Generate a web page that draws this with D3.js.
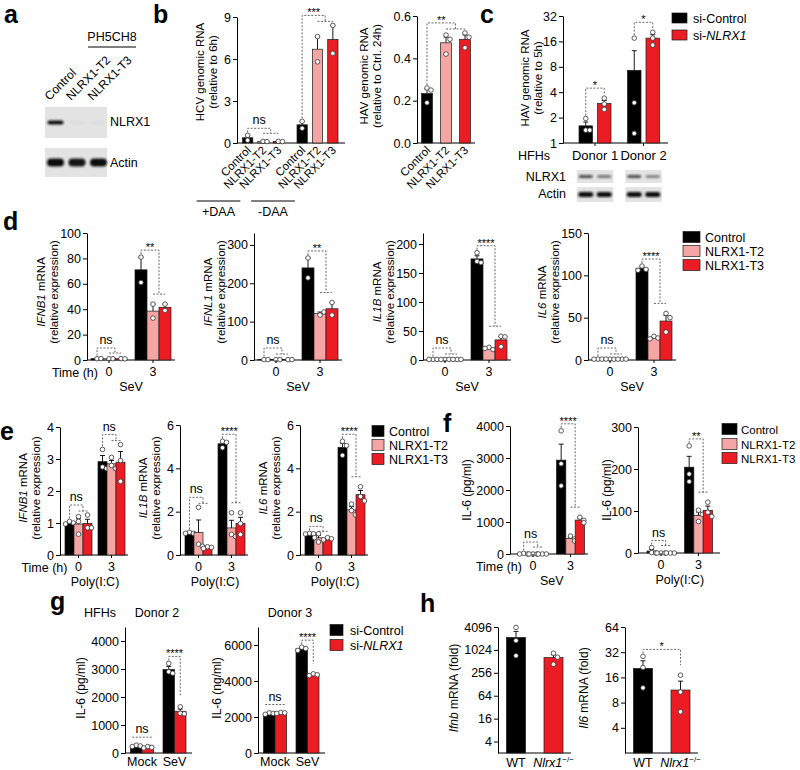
<!DOCTYPE html>
<html>
<head>
<meta charset="utf-8">
<script src="https://cdn.jsdelivr.net/npm/d3@7"></script>
<style>
  body { margin: 0; background: #fff; }
</style>
</head>
<body>
<script>
// ---------- data ----------
// a: western blot
var aLanes = ["Control", "NLRX1-T2", "NLRX1-T3"];
var aNlrx1 = [1, 0.02, 0.02];
var aActin = [1, 0.96, 1];

// b: HCV / HAV genomic RNA
var bGroups = ["+DAA", "-DAA"];
var bCats = ["Control", "NLRX1-T2", "NLRX1-T3"];
var bHcv = [
  [[0.55, 0.2], [0.12, 0.1], [0.12, 0.1]],
  [[1.55, 1.05], [7.6, 5.8], [8.4, 6.4]]
];
var bHcvTicks = [0, 3, 6, 9];
var bHcvSig = ["ns", "***"];
var bHav = [[[0.26, 0.25, 0.19], [0.51, 0.49, 0.42], [0.52, 0.5, 0.45]]];
var bHavTicks = [0, 0.2, 0.4, 0.6];
var bHavSig = ["**"];

// c: HAV in HFHs
var cDonors = ["Donor 1", "Donor 2"];
var siSeries = ["si-Control", "si-NLRX1"];
var cHav = [
  [[1.95, 1.42, 1.42], [3.4, 2.9, 2.5]],
  [[17.5, 3.0, 1.3], [20.5, 17.5, 14.5]]
];
var cTicks = [1, 2, 4, 8, 16, 32];
var cSig = ["*", "*"];
var cNlrx1 = [0.7, 0.5, 0.7, 0.45];
var cActin = [1, 1, 1, 1];

// d: SeV, mRNA
var koSeries = ["Control", "NLRX1-T2", "NLRX1-T3"];
var times = ["0", "3"];
var dIfnb1 = [[[1.0, 1.1], [0.9, 1.0], [1.1, 0.9]], [[81, 61], [44, 33], [44, 39]]];
var dIfnl1 = [[[1, 1], [1, 1.1], [1, 1]], [[266, 214], [117, 125], [150, 117]]];
var dIl1b = [[[1, 1, 1], [1, 1.2, 0.9], [1, 1, 1]], [[185, 170, 168], [22, 18, 20], [41, 40, 23]]];
var dIl6 = [[[1, 1, 1], [1, 0.9, 1.1], [1, 1, 1]], [[111, 107, 106], [28, 26, 25], [55, 50, 33]]];
var dIfnb1Ticks = [0, 20, 40, 60, 80, 100];
var dIfnl1Ticks = [0, 100, 200, 300];
var dIl1bTicks = [0, 50, 100, 150, 200];
var dIl6Ticks = [0, 50, 100, 150];
var dIfnb1Sig = ["ns", "**"];
var dIfnl1Sig = ["ns", "**"];
var dIl1bSig = ["ns", "****"];
var dIl6Sig = ["ns", "****"];

// e: Poly(I:C), mRNA
var eIfnb1 = [[[1.05, 1.0, 0.97], [1.2, 0.65, 1.05], [1.25, 0.85, 0.85]], [[3.3, 2.75, 2.7], [3.05, 2.8, 2.7], [3.45, 2.95, 2.3]]];
var eIl1b = [[[1.05, 1.0, 1.0], [2.2, 0.5, 0.4], [0.38, 0.35, 0.3]], [[5.25, 5.2, 4.95], [1.95, 0.95, 0.85], [1.95, 1.45, 0.95]]];
var eIl6 = [[[1.0, 0.98, 0.97], [0.98, 0.6, 0.8], [0.8, 0.75, 0.7]], [[5.25, 5.05, 4.6], [2.35, 2.05, 1.85], [3.15, 2.7, 2.5]]];
var eIfnb1Ticks = [0, 1, 2, 3, 4];
var eIlTicks = [0, 2, 4, 6];
var eIfnb1Sig = ["ns", "ns"];
var eIl1bSig = ["ns", "****"];
var eIl6Sig = ["ns", "****"];

// f: IL-6 protein
var fSev = [[[20, 0, 0], [0, 0, 0], [0, 0, 0]], [[3850, 2820, 2130], [560, 470, 410], [1150, 1050, 980]]];
var fPoly = [[[13, 1, 0], [0, 0, 0], [0, 0, 0]], [[255, 188, 170], [102, 92, 75], [121, 97, 87]]];
var fSevTicks = [0, 1000, 2000, 3000, 4000];
var fPolyTicks = [0, 100, 200, 300];
var fSevSig = ["ns", "****"];
var fPolySig = ["ns", "**"];

// g: IL-6 in HFHs
var gConds = ["Mock", "SeV"];
var gDonor2 = [[[280, 250, 230], [230, 200, 180]], [[3200, 2900, 2850], [1650, 1420, 1400]]];
var gDonor3 = [[[2230, 2200, 2150], [2250, 2230, 2200]], [[5880, 5800, 5700], [4400, 4350, 4300]]];
var gDonor2Ticks = [0, 1000, 2000, 3000, 4000];
var gDonor3Ticks = [0, 2000, 4000, 6000];
var gSig = ["ns", "****"];

// h: mouse
var hGenos = ["WT", "Nlrx1"];
var hIfnb = [[[4000, 1800, 720], [840, 660, 430]]];
var hIl6 = [[[28.5, 21, 12], [17, 10.7, 6.2]]];
var hIfnbTicks = [4, 16, 64, 256, 1024, 4096];
var hIl6Ticks = [4, 8, 16, 32, 64];
var hIl6Sig = ["*"];

// ---------- setup ----------
var FONT = "'Liberation Sans', Arial, Helvetica, sans-serif";
var triColors = ["#000000", "#f6a5a5", "#ec1c24"];
var duoColors = ["#000000", "#ec1c24"];
var TICK = 12.5;

var svg = d3.select("body").append("svg")
    .attr("width", 800).attr("height", 770)
    .attr("font-family", FONT);

var defs = svg.append("defs");
defs.append("filter").attr("id", "blur")
    .attr("x", "-20%").attr("y", "-60%").attr("width", "140%").attr("height", "220%")
  .append("feGaussianBlur").attr("stdDeviation", 0.8);

function sem(a) { return a.length > 1 ? d3.deviation(a) / Math.sqrt(a.length) : 0; }

// band scale whose first band is centred on c0, bands step apart, bw wide
function bandAt(domain, c0, step, bw) {
  var p = 1 - bw / step;
  return d3.scaleBand().domain(domain)
      .range([c0 - step / 2, c0 - step / 2 + domain.length * step])
      .paddingInner(p).paddingOuter(p / 2);
}

function txt(x, y, str, size, anchor) {
  return svg.append("text").attr("x", x).attr("y", y)
      .attr("font-size", size || 12).attr("text-anchor", anchor || "middle").text(str);
}

function rich(sel, parts) {
  parts.forEach(function (p) {
    sel.append("tspan").text(p[0]).attr("font-style", p[1] ? "italic" : null);
  });
  return sel;
}

function vtitle(x, yc, parts, size) {
  var t = svg.append("text")
      .attr("transform", "translate(" + x + "," + yc + ") rotate(-90)")
      .attr("text-anchor", "middle").attr("font-size", size || 11);
  rich(t, parts);
}

function panelLetter(x, y, l) {
  svg.append("text").attr("x", x).attr("y", y).attr("font-size", 25)
      .attr("font-weight", "bold").text(l);
}

function makeCx(c) {
  var bw = c.sx.bandwidth();
  return function (gi, si) { return c.gx(c.groups[gi]) + c.sx(c.series[si]) + bw / 2; };
}

function barChart(c) {
  var g = svg.append("g");
  var base = c.y.range()[0];
  var bw = c.sx.bandwidth();
  var cx = makeCx(c);

  g.append("line").attr("x1", c.x0).attr("x2", c.x1).attr("y1", base).attr("y2", base)
      .attr("stroke", "#000").attr("stroke-width", 1);

  c.data.forEach(function (grp, gi) {
    grp.forEach(function (reps, si) {
      var m = d3.mean(reps), e = sem(reps), xc = cx(gi, si);
      g.append("rect")
          .attr("x", xc - bw / 2).attr("y", c.y(m))
          .attr("width", bw).attr("height", Math.max(0, base - c.y(m)))
          .attr("fill", c.colors[si]).attr("stroke", "#1a1a1a").attr("stroke-width", 0.7);
      if (e > 0) {
        var ye = c.y(m + e);
        g.append("line").attr("x1", xc).attr("x2", xc).attr("y1", c.y(m)).attr("y2", ye)
            .attr("stroke", "#000").attr("stroke-width", 0.9);
        g.append("line").attr("x1", xc - 2.5).attr("x2", xc + 2.5).attr("y1", ye).attr("y2", ye)
            .attr("stroke", "#000").attr("stroke-width", 0.9);
      }
      var placed = [];
      reps.forEach(function (v) {
        var py = c.y(v);
        var k = placed.filter(function (q) { return Math.abs(q - py) < 4.5; }).length;
        placed.push(py);
        var dx = [0, 4, -4, 8, -8][k] || 0;
        g.append("circle").attr("cx", xc + dx).attr("cy", py).attr("r", 2.3)
            .attr("fill", "#fff").attr("stroke", "#333").attr("stroke-width", 0.8);
      });
    });
  });

  var ax = d3.axisLeft(c.y).tickValues(c.ticks).tickSize(4).tickSizeOuter(0)
      .tickPadding(2).tickFormat(c.fmt || d3.format("d"));
  var ag = g.append("g").attr("transform", "translate(" + c.x0 + ",0)").call(ax);
  ag.attr("font-family", null).attr("font-size", null);
  ag.selectAll("text").attr("font-size", TICK).attr("fill", "#000");
  ag.selectAll("line,path").attr("stroke", "#000");

  if (c.groupTicks) {
    c.groups.forEach(function (gname) {
      var gc = c.gx(gname) + c.gx.bandwidth() / 2;
      g.append("line").attr("x1", gc).attr("x2", gc).attr("y1", base).attr("y2", base + 3)
          .attr("stroke", "#000");
    });
  }
  return g;
}

function sig(c, gi, lab, flat) {
  if (!lab) return;
  var cx = makeCx(c);
  var base = c.y.range()[0];
  var n = c.series.length;
  var tops = c.data[gi].map(function (r) { return Math.max(d3.max(r), d3.mean(r) + sem(r)); });
  var ctrl = tops[0], rest = d3.max(tops.slice(1));
  var xa = cx(gi, 0);
  var xb = n > 2 ? (cx(gi, 1) + cx(gi, 2)) / 2 : cx(gi, 1);
  var dash = { stroke: "#444", w: 0.8, da: "2,1.5" };
  var top, grp;
  if (flat) {
    top = Math.min(c.y(Math.max(ctrl, rest)) - 8, base - 12);
    svg.append("line").attr("x1", xa - 4).attr("x2", xb + 4).attr("y1", top).attr("y2", top)
        .attr("stroke", dash.stroke).attr("stroke-width", dash.w).attr("stroke-dasharray", dash.da);
  } else {
    if (rest > ctrl) { top = c.y(rest) - 10; grp = top + 6; }
    else { top = c.y(ctrl) - 7; grp = c.y(rest) - 10; }
    top = Math.min(top, base - 12);
    grp = Math.max(Math.min(grp, base - 6), top + 5);
    svg.append("path")
        .attr("d", "M" + xa + "," + (c.y(ctrl) - 3) + "V" + top + "H" + xb + "V" + grp)
        .attr("fill", "none").attr("stroke", dash.stroke).attr("stroke-width", dash.w)
        .attr("stroke-dasharray", dash.da);
    if (n > 2) {
      svg.append("line").attr("x1", cx(gi, 1)).attr("x2", cx(gi, 2)).attr("y1", grp).attr("y2", grp)
          .attr("stroke", dash.stroke).attr("stroke-width", dash.w).attr("stroke-dasharray", dash.da);
    }
  }
  var mid = (xa + xb) / 2;
  if (lab === "ns") txt(mid, top - 4, "ns", 12.5);
  else txt(mid, top + 1, lab, 11);
}

function groupLabels(c, timeLabel, cond) {
  var base = c.y.range()[0];
  var centers = c.groups.map(function (gname) { return c.gx(gname) + c.gx.bandwidth() / 2; });
  c.groups.forEach(function (gname, i) { txt(centers[i], base + 16, gname, 12.5); });
  if (timeLabel) txt(centers[0] - 11, base + 17, timeLabel, 12.5, "end");
  if (cond) txt(d3.mean(centers), base + 31, cond, 12.5);
}

function legend(x, ys, names, colors, sw, sh, tx, size) {
  names.forEach(function (nm, i) {
    svg.append("rect").attr("x", x).attr("y", ys[i] - sh / 2).attr("width", sw).attr("height", sh)
        .attr("fill", colors[i]).attr("stroke", "#1a1a1a").attr("stroke-width", 0.7);
    var t = svg.append("text").attr("x", tx).attr("y", ys[i] + 4.5).attr("font-size", size || 12.5);
    if (nm === "si-NLRX1") rich(t, [["si-", false], ["NLRX1", true]]);
    else t.text(nm);
  });
}

function blot(x0, x1, y0, y1, centers, levels, bw, bh) {
  svg.append("rect").attr("x", x0).attr("y", y0).attr("width", x1 - x0).attr("height", y1 - y0)
      .attr("fill", "#e3e3e3");
  var yc = (y0 + y1) / 2;
  centers.forEach(function (cc, i) {
    svg.append("rect").attr("x", cc - bw / 2).attr("y", yc - bh / 2)
        .attr("width", bw).attr("height", bh).attr("rx", bh / 2)
        .attr("fill", "#111").attr("opacity", levels[i]).attr("filter", "url(#blur)");
  });
}

// ---------- panel a ----------
panelLetter(4, 23, "a");
var aX = bandAt(aLanes, 55.5, 21.5, 19);
var aCenters = aLanes.map(function (l) { return aX(l) + aX.bandwidth() / 2; });
blot(45, 107, 107, 138, aCenters, aNlrx1, 16, 4);
blot(45, 107, 148, 177, aCenters, aActin, 17, 8);
aLanes.forEach(function (l, i) {
  svg.append("text").attr("transform", "translate(" + (aCenters[i] - 6) + ",101) rotate(-45)")
      .attr("font-size", 12).text(l);
});
txt(112, 41, "PH5CH8", 12.5);
svg.append("line").attr("x1", 88).attr("x2", 136).attr("y1", 47).attr("y2", 47).attr("stroke", "#000");
txt(110, 126, "NLRX1", 12.5, "start");
txt(110, 167, "Actin", 12.5, "start");

// ---------- panel b ----------
panelLetter(153, 23, "b");
var bHcvC = {
  x0: 237, x1: 345,
  y: d3.scaleLinear().domain([0, 9]).range([143, 17]),
  ticks: bHcvTicks, groups: bGroups, series: bCats, data: bHcv,
  gx: bandAt(bGroups, 263, 54.5, 41),
  sx: d3.scaleBand().domain(bCats).range([0, 41]).paddingInner(0.33),
  colors: triColors
};
barChart(bHcvC);
bHcvSig.forEach(function (s, i) { sig(bHcvC, i, s); });
var bHcvCx = makeCx(bHcvC);
bGroups.forEach(function (gname, gi) {
  bCats.forEach(function (cat, si) {
    svg.append("text")
        .attr("transform", "translate(" + (bHcvCx(gi, si) + 4) + ",151) rotate(-45)")
        .attr("text-anchor", "end").attr("font-size", 11.5).text(cat);
  });
  var x1 = bHcvCx(gi, 0) - 51, x2 = bHcvCx(gi, 2) - 38;
  svg.append("line").attr("x1", x1).attr("x2", x2).attr("y1", 201).attr("y2", 201).attr("stroke", "#000");
  txt((x1 + x2) / 2, 216, gname, 12.5);
});
vtitle(204, 72, [["HCV genomic RNA", false]], 11.5);
vtitle(217, 72, [["(relative to 6h)", false]], 11.5);

var bHavC = {
  x0: 417, x1: 475,
  y: d3.scaleLinear().domain([0, 0.6]).range([143, 16]),
  ticks: bHavTicks, fmt: d3.format(".1f"),
  groups: ["all"], series: bCats, data: bHav,
  gx: d3.scaleBand().domain(["all"]).range([0, 0]),
  sx: bandAt(bCats, 427, 19, 11),
  colors: triColors
};
barChart(bHavC);
sig(bHavC, 0, bHavSig[0]);
var bHavCx = makeCx(bHavC);
bCats.forEach(function (cat, si) {
  svg.append("text")
      .attr("transform", "translate(" + (bHavCx(0, si) + 4) + ",151) rotate(-45)")
      .attr("text-anchor", "end").attr("font-size", 11.5).text(cat);
});
vtitle(368, 76, [["HAV genomic RNA", false]], 11.5);
vtitle(381, 76, [["(relative to Ctrl. 24h)", false]], 11.5);

// ---------- panel c ----------
panelLetter(480, 23, "c");
var cC = {
  x0: 563, x1: 668,
  y: d3.scaleLog().base(2).domain([1, 32]).range([143, 16]),
  ticks: cTicks, groups: cDonors, series: siSeries, data: cHav,
  gx: bandAt(cDonors, 595, 48.5, 32),
  sx: d3.scaleBand().domain(siSeries).range([0, 32]).paddingInner(0.27),
  colors: duoColors, groupTicks: true
};
barChart(cC);
cSig.forEach(function (s, i) { sig(cC, i, s); });
cDonors.forEach(function (dn) { txt(cC.gx(dn) + cC.gx.bandwidth() / 2, 160, dn, 13); });
txt(550, 160, "HFHs", 12.5, "end");
var cCx = makeCx(cC);
var cCenters = [cCx(0, 0), cCx(0, 1), cCx(1, 0), cCx(1, 1)];
blot(cCenters[0] - 9, cCenters[1] + 9, 170, 183, cCenters.slice(0, 2), cNlrx1.slice(0, 2), 14, 3);
blot(cCenters[2] - 9, cCenters[3] + 9, 170, 183, cCenters.slice(2), cNlrx1.slice(2), 14, 3);
blot(cCenters[0] - 9, cCenters[1] + 9, 187, 202, cCenters.slice(0, 2), cActin.slice(0, 2), 15, 5);
blot(cCenters[2] - 9, cCenters[3] + 9, 187, 202, cCenters.slice(2), cActin.slice(2), 15, 5);
txt(566, 181, "NLRX1", 12.5, "end");
txt(566, 198, "Actin", 12.5, "end");
vtitle(529, 78, [["HAV genomic RNA", false]], 11.5);
vtitle(542, 78, [["(relative to 5h)", false]], 11.5);
legend(672, [18, 35], siSeries, duoColors, 15, 10, 693);

// ---------- panel d ----------
panelLetter(3, 230, "d");
var dPlots = [
  { left: 87, name: "IFNB1", data: dIfnb1, max: 100, ticks: dIfnb1Ticks, sig: dIfnb1Sig, time: true },
  { left: 254, name: "IFNL1", data: dIfnl1, max: 331, ticks: dIfnl1Ticks, sig: dIfnl1Sig },
  { left: 423, name: "IL1B", data: dIl1b, max: 219, ticks: dIl1bTicks, sig: dIl1bSig },
  { left: 588, name: "IL6", data: dIl6, max: 150, ticks: dIl6Ticks, sig: dIl6Sig }
];
dPlots.forEach(function (p) {
  var c = {
    x0: p.left, x1: p.left + 88,
    y: d3.scaleLinear().domain([0, p.max]).range([360, 233]),
    ticks: p.ticks, groups: times, series: koSeries, data: p.data,
    gx: bandAt(times, p.left + 22, 44, 36),
    sx: d3.scaleBand().domain(koSeries).range([0, 36]),
    colors: triColors, groupTicks: true
  };
  barChart(c);
  p.sig.forEach(function (s, i) { sig(c, i, s); });
  groupLabels(c, p.time ? "Time (h)" : null, "SeV");
  vtitle(p.left - 42, 292, [[p.name, true], [" mRNA", false]], 11.5);
  vtitle(p.left - 29, 292, [["(relative expression)", false]], 11.5);
});
legend(683, [237, 251, 265], koSeries, triColors, 17, 11, 705);

// ---------- panel e ----------
panelLetter(0, 440, "e");
var ePlots = [
  { left: 60, name: "IFNB1", data: eIfnb1, max: 4, top: 427, ticks: eIfnb1Ticks, sig: eIfnb1Sig, time: true },
  { left: 180, name: "IL1B", data: eIl1b, max: 6, top: 425, ticks: eIlTicks, sig: eIl1bSig },
  { left: 300, name: "IL6", data: eIl6, max: 6, top: 425, ticks: eIlTicks, sig: eIl6Sig }
];
ePlots.forEach(function (p) {
  var c = {
    x0: p.left, x1: p.left + 68,
    y: d3.scaleLinear().domain([0, p.max]).range([555, p.top]),
    ticks: p.ticks, groups: times, series: koSeries, data: p.data,
    gx: bandAt(times, p.left + 18.5, 33, 27),
    sx: d3.scaleBand().domain(koSeries).range([0, 27]),
    colors: triColors, groupTicks: true
  };
  barChart(c);
  p.sig.forEach(function (s, i) { sig(c, i, s); });
  groupLabels(c, p.time ? "Time (h)" : null, "Poly(I:C)");
  vtitle(p.left - 33, 488, [[p.name, true], [" mRNA", false]], 11.5);
  vtitle(p.left - 20, 488, [["(relative expression)", false]], 11.5);
});
legend(372, [431, 445, 459], koSeries, triColors, 12, 11, 389);

// ---------- panel f ----------
panelLetter(443, 432, "f");
var fPlots = [
  { left: 510, end: 588, data: fSev, max: 4000, base: 554, top: 426, ticks: fSevTicks, sig: fSevSig, cond: "SeV", time: true, tx: 471 },
  { left: 638, end: 720, data: fPoly, max: 300, base: 553, top: 427, ticks: fPolyTicks, sig: fPolySig, cond: "Poly(I:C)", tx: 611 }
];
fPlots.forEach(function (p) {
  var c = {
    x0: p.left, x1: p.end,
    y: d3.scaleLinear().domain([0, p.max]).range([p.base, p.top]),
    ticks: p.ticks, groups: times, series: koSeries, data: p.data,
    gx: bandAt(times, p.left + 23, 37.5, 28),
    sx: d3.scaleBand().domain(koSeries).range([0, 28]),
    colors: triColors, groupTicks: true
  };
  barChart(c);
  p.sig.forEach(function (s, i) { sig(c, i, s); });
  groupLabels(c, p.time ? "Time (h)" : null, p.cond);
  vtitle(p.tx, 490, [["IL-6 (pg/ml)", false]], 12);
});
legend(722, [429, 444, 458], koSeries, triColors, 15, 11, 741, 11.5);

// ---------- panel g ----------
panelLetter(50, 610, "g");
txt(100, 617, "HFHs", 12.5);
var gPlots = [
  { left: 125, data: gDonor2, max: 4500, ticks: gDonor2Ticks, title: "IL-6 (pg/ml)", tx: 85, head: "Donor 2" },
  { left: 258, data: gDonor3, max: 7000, ticks: gDonor3Ticks, title: "IL-6 (ng/ml)", tx: 221, head: "Donor 3" }
];
gPlots.forEach(function (p) {
  var c = {
    x0: p.left, x1: p.left + 67,
    y: d3.scaleLinear().domain([0, p.max]).range([753, 627]),
    ticks: p.ticks, groups: gConds, series: siSeries, data: p.data,
    gx: bandAt(gConds, p.left + 17, 32.5, 23),
    sx: d3.scaleBand().domain(siSeries).range([0, 23]),
    colors: duoColors
  };
  barChart(c);
  sig(c, 0, gSig[0], true);
  sig(c, 1, gSig[1]);
  gConds.forEach(function (gc) { txt(c.gx(gc) + c.gx.bandwidth() / 2, 766, gc, 12.5); });
  vtitle(p.tx, 688, [[p.title, false]], 12);
  txt(p.left + 32, 617, p.head, 12.5);
});
legend(330, [630, 645], siSeries, duoColors, 13, 11, 350);

// ---------- panel h ----------
panelLetter(420, 612, "h");
var hPlots = [
  { left: 498, data: hIfnb, dom: [2, 4096], ticks: hIfnbTicks, gene: "Ifnb", tx: 458, sig: [] },
  { left: 625, data: hIl6, dom: [2, 64], ticks: hIl6Ticks, gene: "Il6", tx: 588, sig: hIl6Sig }
];
hPlots.forEach(function (p) {
  var c = {
    x0: p.left, x1: p.left + 73,
    y: d3.scaleLog().base(2).domain(p.dom).range([753, 627]),
    ticks: p.ticks, groups: ["all"], series: hGenos, data: p.data,
    gx: d3.scaleBand().domain(["all"]).range([0, 0]),
    sx: bandAt(hGenos, p.left + 18, 37.5, 19),
    colors: duoColors
  };
  barChart(c);
  if (p.sig.length) sig(c, 0, p.sig[0]);
  var cx = makeCx(c);
  txt(cx(0, 0), 767, "WT", 12.5);
  var t = svg.append("text").attr("x", cx(0, 1)).attr("y", 767).attr("font-size", 12.5)
      .attr("text-anchor", "middle");
  t.append("tspan").attr("font-style", "italic").text(hGenos[1]);
  t.append("tspan").attr("font-size", 8).attr("dy", -5).text("\u2212/\u2212");
  vtitle(p.tx, 688, [[p.gene, true], [" mRNA (fold)", false]], 12);
});
</script>
</body>
</html>
